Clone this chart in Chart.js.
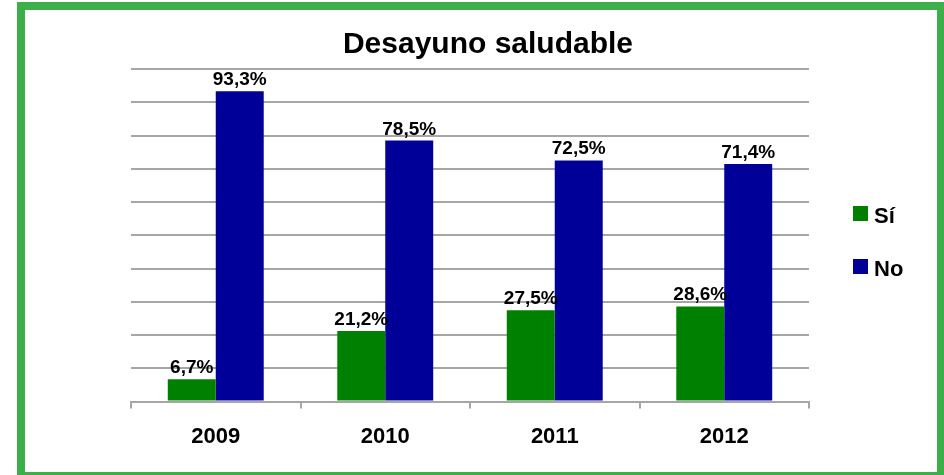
<!DOCTYPE html>
<html>
<head>
<meta charset="utf-8">
<script src="https://cdn.jsdelivr.net/npm/chart.js@4/dist/chart.umd.min.js"></script>
<style>
  html, body { margin: 0; padding: 0; background: #ffffff; }
  #c { display: block; }
</style>
</head>
<body>
<canvas id="c" width="944" height="475"></canvas>
<script>
const categories = ["2009", "2010", "2011", "2012"];
const siValues = [6.7, 21.2, 27.5, 28.6];
const noValues = [93.3, 78.5, 72.5, 71.4];
const seriesNames = ["Sí", "No"];
const titleText = "Desayuno saludable";

const FONT = "'Liberation Sans', Arial, sans-serif";

const framePlugin = {
  id: 'frame',
  beforeDraw(chart) {
    const ctx = chart.ctx;
    ctx.save();
    ctx.fillStyle = '#ffffff';
    ctx.fillRect(0, 0, chart.width, chart.height);
    ctx.strokeStyle = '#3daf48';
    ctx.lineWidth = 8;
    ctx.strokeRect(21, 6, 920, 470);
    ctx.restore();
  },
  afterDraw(chart) {
    const ctx = chart.ctx;
    ctx.save();
    // title
    ctx.fillStyle = '#000000';
    ctx.font = "bold 30px " + FONT;
    ctx.textAlign = 'center';
    ctx.textBaseline = 'alphabetic';
    ctx.fillText(titleText, 488, 53);
    // legend
    ctx.font = "bold 22px " + FONT;
    ctx.textAlign = 'left';
    const ys = [206, 259];
    chart.data.datasets.forEach((ds, i) => {
      ctx.fillStyle = ds.backgroundColor;
      ctx.fillRect(853, ys[i], 15, 15);
      ctx.fillStyle = '#000000';
      ctx.fillText(ds.label, 874, ys[i] + 17);
    });
    ctx.restore();
  }
};

const labelPlugin = {
  id: 'barLabels',
  afterDatasetsDraw(chart) {
    const ctx = chart.ctx;
    ctx.save();
    ctx.fillStyle = '#000000';
    ctx.font = "bold 19px " + FONT;
    ctx.textAlign = 'center';
    ctx.textBaseline = 'alphabetic';
    chart.data.datasets.forEach((ds, di) => {
      const meta = chart.getDatasetMeta(di);
      meta.data.forEach((bar, i) => {
        const txt = ds.data[i].toFixed(1).replace('.', ',') + '%';
        ctx.fillText(txt, bar.x, bar.y - 6);
      });
    });
    ctx.restore();
  }
};

new Chart(document.getElementById('c'), {
  type: 'bar',
  data: {
    labels: categories,
    datasets: [
      { label: seriesNames[0], data: siValues, backgroundColor: '#008000' },
      { label: seriesNames[1], data: noValues, backgroundColor: '#000099' }
    ]
  },
  options: {
    responsive: false,
    animation: false,
    devicePixelRatio: 1,
    layout: { padding: { left: 131, right: 135, top: 69, bottom: 10 } },
    datasets: { bar: { categoryPercentage: 0.566, barPercentage: 1.0 } },
    plugins: {
      legend: { display: false },
      title: { display: false },
      tooltip: { enabled: false }
    },
    scales: {
      x: {
        grid: { display: true, drawOnChartArea: false, drawTicks: true, tickLength: 7, color: '#a6a6a6', lineWidth: 2 },
        border: { display: true, color: '#a6a6a6', width: 2 },
        ticks: { color: '#000000', font: { family: FONT, size: 22, weight: 'bold' }, padding: 15 }
      },
      y: {
        min: 0, max: 100,
        ticks: { display: false, stepSize: 10 },
        grid: { color: '#a6a6a6', lineWidth: 2, drawTicks: false },
        border: { display: false }
      }
    }
  },
  plugins: [framePlugin, labelPlugin]
});
</script>
</body>
</html>
